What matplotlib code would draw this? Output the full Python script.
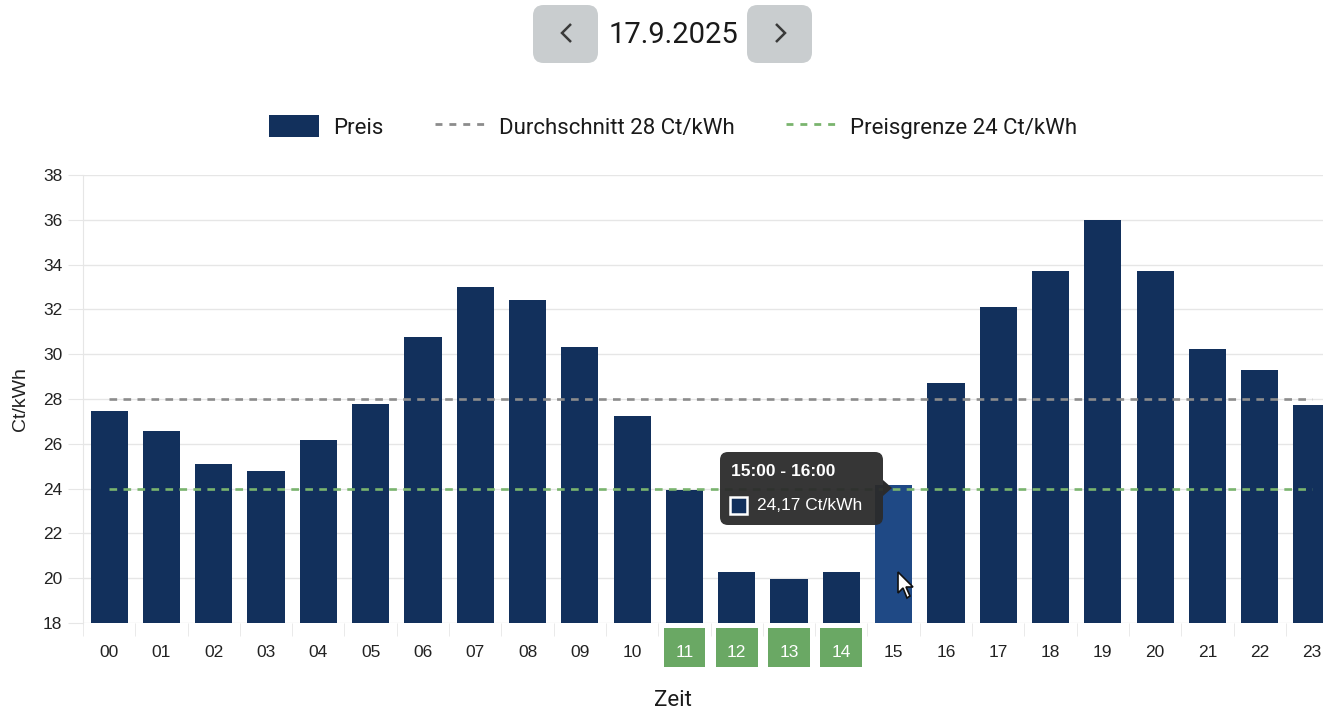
import matplotlib
matplotlib.use("Agg")
import matplotlib.pyplot as plt
from matplotlib.patches import FancyBboxPatch, Rectangle, Polygon
from matplotlib.lines import Line2D
from matplotlib.transforms import blended_transform_factory

# --- data -------------------------------------------------------------
hours = ["00", "01", "02", "03", "04", "05", "06", "07", "08", "09", "10", "11",
         "12", "13", "14", "15", "16", "17", "18", "19", "20", "21", "22", "23"]
prices = [27.46, 26.57, 25.10, 24.79, 26.17, 27.78, 30.77, 33.00, 32.42, 30.32,
          27.24, 23.94, 20.26, 19.96, 20.29, 24.17, 28.70, 32.10, 33.70, 36.00,
          33.73, 30.23, 29.28, 27.72]
average = 28
price_limit = 24
cheap_hours = ["11", "12", "13", "14"]
active_hour = "15"
date_label = "17.9.2025"
y_ticks = [18, 20, 22, 24, 26, 28, 30, 32, 34, 36, 38]

# --- style ------------------------------------------------------------
NAVY = "#12305c"
NAVY_HOVER = "#1f4985"
GRID = "#e6e6e6"
AVG_COLOR = "#8c8c8c"
LIMIT_COLOR = "#7ab46e"
CHEAP_BG = "#6aa864"
UI_FONT = "Roboto"
SANS = "Liberation Sans"

W, H = 1323, 715
fig = plt.figure(figsize=(W / 100, H / 100), dpi=100)
fig.patch.set_facecolor("white")

def px(x, y):
    """figure pixel (top-left origin) -> figure fraction"""
    return x / W, 1 - y / H

# plot area: left edge 83px, 52.3px per hour, value 18 at y=623, 38 at y=175
left, slot = 83, 52.3
ax = fig.add_axes([left / W, (H - 623) / H, slot * 24 / W, (623 - 175) / H])
ax.set_xlim(-0.5, 23.5)
ax.set_ylim(18, 38)

x = list(range(len(hours)))
colors = [NAVY_HOVER if h == active_hour else NAVY for h in hours]
ax.bar(x, [p - 18 for p in prices], bottom=18, width=0.71, color=colors, zorder=3)

ax.plot([0, len(hours) - 1], [average, average], color=AVG_COLOR, lw=1.9,
        dashes=(2.9, 2.4), zorder=4)
ax.plot([0, len(hours) - 1], [price_limit, price_limit], color=LIMIT_COLOR, lw=1.9,
        dashes=(2.9, 2.4), zorder=4)

# axes cosmetics
for s in ["top", "right", "bottom"]:
    ax.spines[s].set_visible(False)
ax.spines["left"].set_color(GRID)
ax.set_yticks(y_ticks)
ax.set_yticklabels([str(t) for t in y_ticks], fontsize=12.5, family=SANS, color="#222222")
ax.yaxis.grid(True, color=GRID, lw=1, zorder=0)
ax.tick_params(axis="y", length=11, color=GRID, pad=4)

ax.set_xticks(x)
ax.set_xticklabels(hours, fontsize=12.5, family=SANS, color="#222222")
ax.set_xticks([i + 0.5 for i in range(-1, len(hours))], minor=True)
ax.tick_params(axis="x", which="major", length=0, pad=15.7)
ax.tick_params(axis="x", which="minor", length=9, color=GRID)

# green badges behind the hours below the price limit
badge_tf = blended_transform_factory(ax.transData, fig.transFigure)
for lbl in ax.get_xticklabels():
    if lbl.get_text() in cheap_hours:
        lbl.set_color("white")
        k = hours.index(lbl.get_text())
        ax.add_patch(Rectangle((k - 0.4, 1 - 667 / H), 0.8, 39 / H,
                               transform=badge_tf, fc=CHEAP_BG, ec="none",
                               zorder=0.5, clip_on=False))
ax.set_xlim(-0.5, 23.5)
ax.set_ylim(18, 38)

ax.set_ylabel("Ct/kWh", fontsize=14, family=SANS, color="#222222", labelpad=10)
fig.text(*px(673, 700), "Zeit", fontsize=16, family=UI_FONT, color="#1a1a1a",
         ha="center", va="center")

# --- legend -----------------------------------------------------------
handles = [
    Rectangle((0, 0), 1, 1, fc=NAVY, ec="none"),
    Line2D([], [], color=AVG_COLOR, lw=2, dashes=(2.5, 2.5)),
    Line2D([], [], color=LIMIT_COLOR, lw=2, dashes=(2.5, 2.5)),
]
labels = ["Preis", f"Durchschnitt {average} Ct/kWh", f"Preisgrenze {price_limit} Ct/kWh"]
fig.legend(handles, labels, ncol=3, loc="center", bbox_to_anchor=px(673, 127),
           frameon=False, prop=dict(family=UI_FONT, size=16), handlelength=2.25,
           handleheight=1.1, handletextpad=0.63, columnspacing=2.3,
           labelcolor="#1a1a1a")

# --- date navigation --------------------------------------------------
for bx in (533, 747):
    x0, y0 = px(bx, 63)
    fig.patches.append(FancyBboxPatch((x0, y0), 65 / W, 58 / H,
                                      boxstyle="round,pad=0,rounding_size=0.008",
                                      transform=fig.transFigure, fc="#c9cdcf",
                                      ec="none", mutation_aspect=W / H))
# chevron icons
for pts in ([(571, 24), (562, 33), (571, 42)], [(776, 24), (785, 33), (776, 42)]):
    fig.add_artist(Line2D([px(a, b)[0] for a, b in pts], [px(a, b)[1] for a, b in pts],
                          transform=fig.transFigure, color="#3a3a3a", lw=1.8,
                          solid_joinstyle="miter", solid_capstyle="butt"))
fig.text(*px(673, 35), date_label, fontsize=21, family=UI_FONT, color="#1a1a1a",
         ha="center", va="center")

# --- tooltip for the hovered hour ------------------------------------
idx = hours.index(active_hour)
tx0, ty0 = px(720, 525)
fig.patches.append(FancyBboxPatch((tx0, ty0), 163 / W, 73 / H,
                                  boxstyle="round,pad=0,rounding_size=0.006",
                                  transform=fig.transFigure, fc="#2b2b2b",
                                  ec="none", alpha=0.95, zorder=10,
                                  mutation_aspect=W / H))
fig.patches.append(Polygon([px(883, 480), px(892, 488), px(883, 496)], closed=True,
                           transform=fig.transFigure, fc="#2b2b2b", ec="none",
                           zorder=10))
fig.text(*px(731, 471), f"{int(active_hour)}:00 - {int(active_hour) + 1}:00",
         fontsize=12.5, family=SANS, weight="bold", color="white",
         va="center", ha="left", zorder=11)
sx, sy = px(730, 514)
fig.patches.append(Rectangle((sx, sy), 17 / W, 17 / H, transform=fig.transFigure,
                             fc=NAVY, ec="white", lw=1.8, zorder=11))
fig.text(*px(757, 505), f"{prices[idx]:.2f}".replace(".", ",") + " Ct/kWh",
         fontsize=12.5, family=SANS, color="white", va="center", ha="left", zorder=11)

# mouse pointer over the hovered bar
cursor = [(898, 572), (898, 593), (903, 588), (907, 598), (910, 596),
          (906, 587), (913, 587)]
fig.patches.append(Polygon([px(a, b) for a, b in cursor], closed=True,
                           transform=fig.transFigure, fc="white", ec="#111111",
                           lw=1.2, zorder=12))

fig.savefig("out.png", dpi=100, facecolor="white")
